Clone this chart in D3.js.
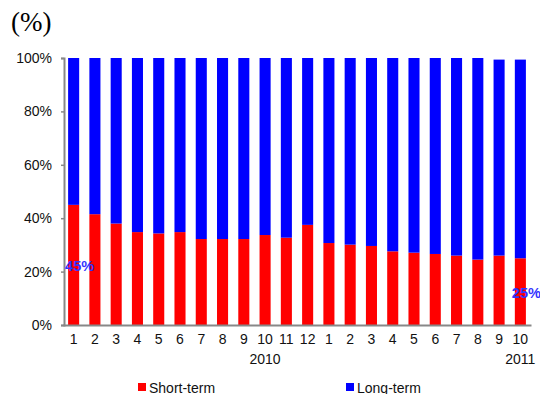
<!DOCTYPE html>
<html>
<head>
<meta charset="utf-8">
<script src="https://cdn.jsdelivr.net/npm/d3@7"></script>
<style>
  html, body { margin: 0; padding: 0; background: #fff; }
  svg { display: block; }
</style>
</head>
<body>
<svg id="chart" width="540" height="394"></svg>
<script>
// Monthly tick labels (2010: Jan–Dec, 2011: Jan–Oct)
const months = ["1","2","3","4","5","6","7","8","9","10","11","12",
                "1","2","3","4","5","6","7","8","9","10"];
// Year labels placed under the given month index
const years = [{ label: "2010", index: 9 }, { label: "2011", index: 21 }];
// Share of short-term (%)
const shortTerm = [45, 41.5, 38, 34.8, 34.3, 34.8, 32.2, 32.2, 32.2, 33.7, 32.7, 37.5,
                   30.7, 30.1, 29.6, 27.6, 27.1, 26.6, 26.0, 24.5, 26.0, 25];
// Share of long-term (%)
const longTerm = [55, 58.5, 62, 65.2, 65.7, 65.2, 67.8, 67.8, 67.8, 66.3, 67.3, 62.5,
                  69.3, 69.9, 70.4, 72.4, 72.9, 73.4, 74.0, 75.5, 73.4, 74.4];
const yTicks = [0, 20, 40, 60, 80, 100];
const seriesNames = ["Short-term", "Long-term"];
const seriesColors = ["#ff0000", "#0000ff"];
// Value labels shown on the first and last bars
const valueLabels = [{ index: 0, value: shortTerm[0] }, { index: 21, value: shortTerm[21] }];

const svg = d3.select("#chart");

const x = d3.scaleBand()
  .domain(d3.range(months.length))
  .range([63, 531])
  .paddingInner(0.48)
  .paddingOuter(0.24);

const y = d3.scaleLinear().domain([0, 100]).range([325, 58]);

const rows = months.map((m, i) => ({ i, short: shortTerm[i], long: longTerm[i] }));
const stacked = d3.stack().keys(["short", "long"])(rows);

// Stacked bars
svg.append("g").selectAll("g")
  .data(stacked)
  .join("g")
  .attr("fill", (d, k) => seriesColors[k])
  .selectAll("rect")
  .data(d => d)
  .join("rect")
  .attr("x", d => x(d.data.i))
  .attr("width", x.bandwidth())
  .attr("y", d => y(d[1]))
  .attr("height", d => y(d[0]) - y(d[1]));

// Y axis
const yAxis = svg.append("g")
  .attr("transform", "translate(64,0)")
  .call(d3.axisLeft(y).tickValues(yTicks).tickFormat(d => d + "%").tickSize(3).tickPadding(9));
yAxis.select(".domain").attr("stroke", "#888").attr("stroke-width", 2);
yAxis.selectAll(".tick line").attr("stroke", "#888").attr("stroke-width", 1.5);
yAxis.selectAll(".tick text")
  .attr("font-family", "Liberation Sans, Arial, sans-serif")
  .attr("font-size", 14)
  .attr("fill", "#111");

// X axis
const xAxis = svg.append("g")
  .attr("transform", "translate(0,325)")
  .call(d3.axisBottom(x).tickFormat(i => months[i]).tickSize(0).tickPadding(9));
xAxis.select(".domain").attr("stroke", "#888").attr("stroke-width", 2);
xAxis.selectAll(".tick text")
  .attr("font-family", "Liberation Sans, Arial, sans-serif")
  .attr("font-size", 14)
  .attr("fill", "#111");

// Year labels
svg.append("g").selectAll("text")
  .data(years)
  .join("text")
  .attr("x", d => x(d.index) + x.bandwidth() / 2)
  .attr("y", 364)
  .attr("text-anchor", "middle")
  .attr("font-family", "Liberation Sans, Arial, sans-serif")
  .attr("font-size", 14)
  .attr("fill", "#111")
  .text(d => d.label);

// Value labels
svg.append("g").selectAll("text")
  .data(valueLabels)
  .join("text")
  .attr("x", d => x(d.index) + x.bandwidth() / 2 + 6)
  .attr("y", d => y(d.value / 2) + 6)
  .attr("text-anchor", "middle")
  .attr("font-family", "Liberation Sans, Arial, sans-serif")
  .attr("font-size", 14.5)
  .attr("font-weight", "bold")
  .attr("fill", "#3333ff")
  .text(d => Math.round(d.value) + "%");

// Unit label
svg.append("text")
  .attr("x", 11)
  .attr("y", 31)
  .attr("font-family", "Liberation Serif, Times New Roman, serif")
  .attr("font-size", 27)
  .attr("fill", "#000")
  .text("(%)");

// Legend
const legendX = [138, 346];
const legend = svg.append("g").selectAll("g")
  .data(seriesNames)
  .join("g")
  .attr("transform", (d, k) => `translate(${legendX[k]},383)`);
legend.append("rect")
  .attr("width", 8).attr("height", 8)
  .attr("fill", (d, k) => seriesColors[k]);
legend.append("text")
  .attr("x", 11)
  .attr("y", 9.5)
  .attr("font-family", "Liberation Sans, Arial, sans-serif")
  .attr("font-size", 14)
  .attr("fill", "#111")
  .text(d => d);
</script>
</body>
</html>
